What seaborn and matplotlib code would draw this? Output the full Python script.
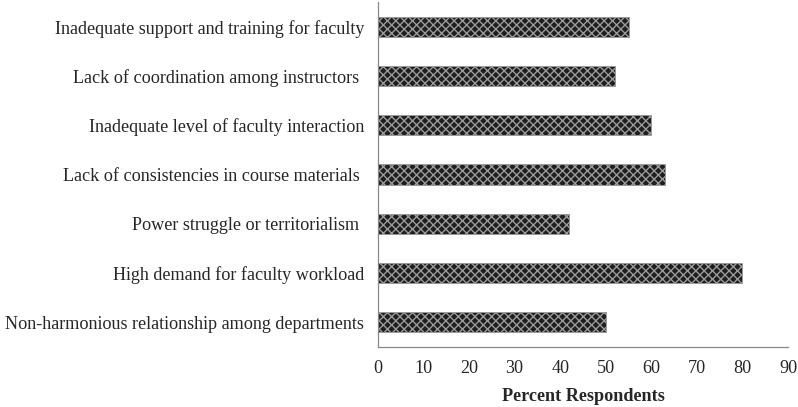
import numpy as np
import pandas as pd
import matplotlib
matplotlib.use('Agg')
import matplotlib.pyplot as plt
import seaborn as sns

# Challenges reported, top to bottom as in the chart
challenges = [
    'Inadequate support and training for faculty',
    'Lack of coordination among instructors ',
    'Inadequate level of faculty interaction',
    'Lack of consistencies in course materials ',
    'Power struggle or territorialism ',
    'High demand for faculty workload',
    'Non-harmonious relationship among departments',
]
percent = [55, 52, 60, 63, 42, 80, 50]
xticks = [0, 10, 20, 30, 40, 50, 60, 70, 80, 90]

df = pd.DataFrame({'Challenge': challenges, 'Percent': percent})

sns.set_style('white')
plt.rcParams['font.family'] = ['Liberation Serif', 'DejaVu Serif']
plt.rcParams['hatch.linewidth'] = 1.0
plt.rcParams['hatch.color'] = '#9a9a9a'

fig = plt.figure(figsize=(7.98, 4.07), dpi=100)
ax = fig.add_axes([0.4737, 0.1474, 0.5138, 0.8476])

sns.barplot(data=df, x='Percent', y='Challenge', order=challenges,
            color='#1e1e1e', width=0.41, ax=ax, saturation=1)
for bar in ax.patches:
    bar.set_hatch('xxxx')
    bar.set_edgecolor('#9a9a9a')
    bar.set_linewidth(0.6)

fs = 13.1
ax.set_xlim(0, 90)
ax.set_xticks(xticks)
ax.set_xticklabels([str(t) for t in xticks], fontsize=fs)
ax.tick_params(axis='x', length=4, width=0.8, color='#888888', pad=5)

ax.set_ylim(6.5, -0.5)
ax.set_yticks(range(len(challenges)))
ax.set_yticklabels(challenges, fontsize=fs)
ax.tick_params(axis='y', which='major', length=0, pad=10)
ax.set_yticks(np.arange(-0.5, len(challenges), 1.0), minor=True)
ax.tick_params(axis='y', which='minor', length=4, width=0.8, color='#888888')

ax.set_xlabel('Percent Respondents', fontsize=fs, fontweight='bold', labelpad=8)
ax.set_ylabel('')

for side in ['top', 'right']:
    ax.spines[side].set_visible(False)
for side in ['left', 'bottom']:
    ax.spines[side].set_color('#888888')
    ax.spines[side].set_linewidth(0.9)

fig.savefig('out.png', dpi=100)
